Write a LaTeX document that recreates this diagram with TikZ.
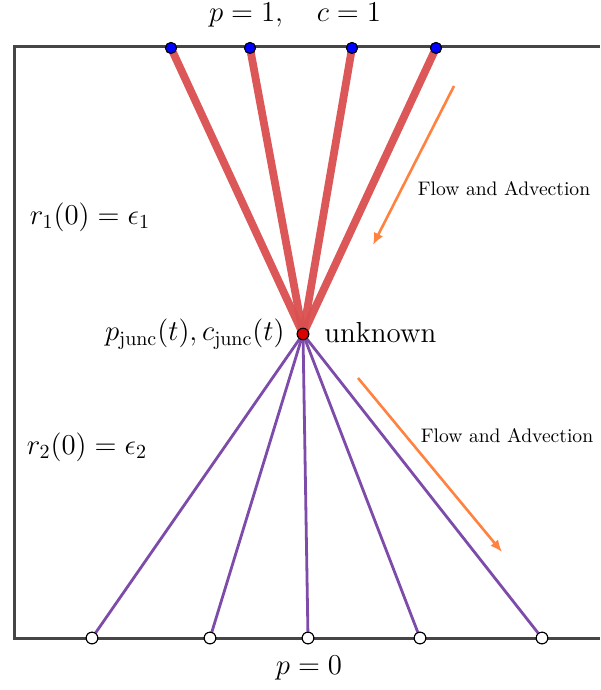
\documentclass[tikz,border=0pt]{standalone}
\usetikzlibrary{arrows.meta}
\definecolor{frame}{RGB}{70,70,70}
\definecolor{redline}{RGB}{218,78,78}
\definecolor{purp}{RGB}{125,75,170}
\definecolor{orng}{RGB}{255,130,65}
\tikzset{
  px/.style={x=0.5pt,y=-0.5pt},
  frameline/.style={draw=frame,line width=1.5pt},
  inlet/.style={draw=redline,line width=3.9pt,opacity=0.95},
  outlet/.style={draw=purp,line width=1.4pt},
  topdot/.style={circle,fill=blue,draw=black,line width=0.5pt,inner sep=0pt,minimum size=5.5pt},
  botdot/.style={circle,fill=white,draw=black,line width=0.5pt,inner sep=0pt,minimum size=5.8pt},
  jdot/.style={circle,fill=red!85!black,draw=black,line width=0.5pt,inner sep=0pt,minimum size=5.8pt},
  flowarrow/.style={draw=orng,line width=1.3pt,-{Latex[length=6pt,width=5pt]}},
  bigtxt/.style={font=\fontsize{14.5}{17}\selectfont,inner sep=0pt},
  smalltxt/.style={font=\fontsize{9.8}{12}\selectfont,inner sep=0pt}
}
\begin{document}
\begin{tikzpicture}[px]
\useasboundingbox (0,0) rectangle (600,690);
% frame
\coordinate (tl) at (14,47);
\coordinate (tr) at (600,47);
\coordinate (bl) at (14,638);
\coordinate (br) at (600,638);
\draw[frameline] (tr) -- (tl) -- (bl) -- (br);
% junction
\node[jdot] (j) at (303,334) {};
% top dots
\node[topdot] (t1) at (171,48) {};
\node[topdot] (t2) at (250,48) {};
\node[topdot] (t3) at (352,48) {};
\node[topdot] (t4) at (436,48) {};
% bottom dots
\node[botdot] (b1) at (92,638) {};
\node[botdot] (b2) at (210,638) {};
\node[botdot] (b3) at (308,638) {};
\node[botdot] (b4) at (420,638) {};
\node[botdot] (b5) at (542,638) {};
% lines
\foreach \t in {t1,t2,t3,t4} \draw[inlet] (\t.center) -- (j.center);
\foreach \b in {b1,b2,b3,b4,b5} \draw[outlet] (j.center) -- (\b.center);
% redraw dots on top
\foreach \t/\x in {t1/171,t2/250,t3/352,t4/436} \node[topdot] at (\x,48) {};
\foreach \b/\x in {b1/92,b2/210,b3/308,b4/420,b5/542} \node[botdot] at (\x,638) {};
\node[jdot] at (303,334) {};
% arrows
\coordinate (a1s) at (454,86);
\coordinate (a1e) at (373,245);
\coordinate (a2s) at (358,378);
\coordinate (a2e) at (502,552);
\draw[flowarrow] (a1s) -- (a1e);
\draw[flowarrow] (a2s) -- (a2e);
% labels
\node[bigtxt] (ltop) at (295,15) {$p=1,\quad c=1$};
\node[bigtxt] (lbot) at (309,668) {$p=0$};
\node[bigtxt] (lr1) at (90,217) {$r_1(0)=\epsilon_1$};
\node[bigtxt] (lr2) at (87,447) {$r_2(0)=\epsilon_2$};
\node[bigtxt,anchor=east] (lj) at (285,334) {$p_{\mathrm{junc}}(t),c_{\mathrm{junc}}(t)$};
\node[bigtxt,anchor=west] (lu) at (324,333) {unknown};
\node[smalltxt] (f1) at (504,189) {Flow and Advection};
\node[smalltxt] (f2) at (507,436) {Flow and Advection};
\end{tikzpicture}
\end{document}
